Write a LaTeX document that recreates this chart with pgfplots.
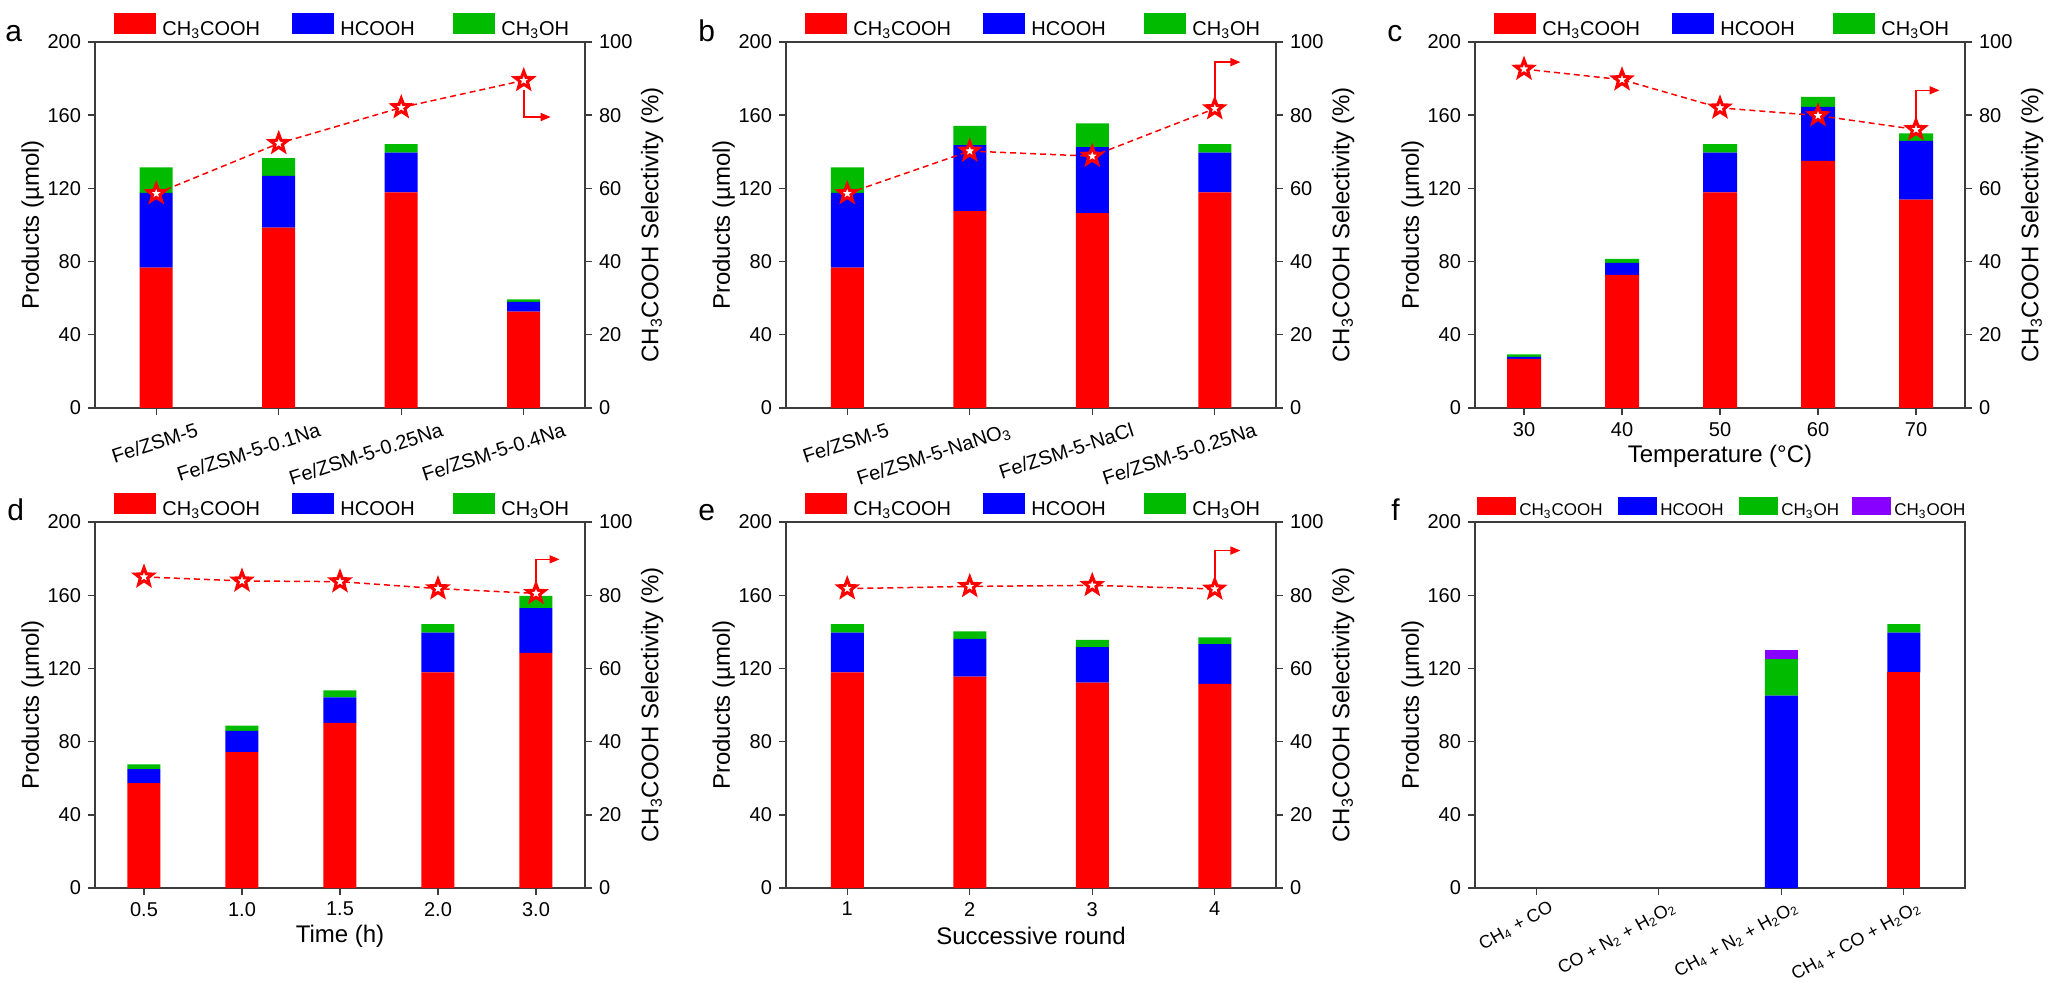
\documentclass[border=0pt]{standalone}
\usepackage{fontspec}
\setmainfont{Liberation Sans}
\usepackage{graphicx}
\usepackage{pgfplots}
\pgfplotsset{compat=1.18}
\usetikzlibrary{arrows.meta}

\definecolor{cred}{RGB}{255,0,0}
\definecolor{cblue}{RGB}{0,0,255}
\definecolor{cgreen}{RGB}{0,187,0}
\definecolor{cpurple}{RGB}{136,0,255}
\definecolor{axgray}{RGB}{60,60,60}

\pgfdeclareplotmark{fivestar}{%
  \pgfpathmoveto{\pgfpointpolar{90}{\pgfplotmarksize}}%
  \pgfpathlineto{\pgfpointpolar{126}{0.42\pgfplotmarksize}}%
  \pgfpathlineto{\pgfpointpolar{162}{\pgfplotmarksize}}%
  \pgfpathlineto{\pgfpointpolar{198}{0.42\pgfplotmarksize}}%
  \pgfpathlineto{\pgfpointpolar{234}{\pgfplotmarksize}}%
  \pgfpathlineto{\pgfpointpolar{270}{0.42\pgfplotmarksize}}%
  \pgfpathlineto{\pgfpointpolar{306}{\pgfplotmarksize}}%
  \pgfpathlineto{\pgfpointpolar{342}{0.42\pgfplotmarksize}}%
  \pgfpathlineto{\pgfpointpolar{18}{\pgfplotmarksize}}%
  \pgfpathlineto{\pgfpointpolar{54}{0.42\pgfplotmarksize}}%
  \pgfpathclose
  \pgfusepathqfillstroke
}

\def\legw{21pt}
\def\legtr{3pt}
\def\legh{8.5pt}

\newcommand\legA{\makebox[65pt][l]{CH\textsubscript{3}COOH}}
\newcommand\legB{\makebox[56.5pt][l]{HCOOH}}
\newcommand\legC{CH\textsubscript{3}OH}
\newcommand\ra[1]{\rotatebox{18}{#1}}
\newcommand\rf[1]{\rotatebox{29}{#1}}

\pgfplotsset{
  legbox/.style={legend image code/.code={%
      \fill[##1,draw=none] (0pt,-2pt) rectangle (\legw,\legh);
      \path ({\legw+\legtr},0pt);}},
  panel/.style={scale only axis, width=245pt, height=183pt, anchor=south west,
    axis line style={axgray,line width=0.7pt},
    every tick/.style={axgray,line width=0.7pt},
    tick align=outside, major tick length=3.5pt,
    /pgf/number format/assume math mode=true,
    tick label style={font=\fontsize{10}{12}\selectfont},
    label style={font=\fontsize{12}{14}\selectfont},
  },
  leftax/.style={panel, ymin=0, ymax=200, ytick={0,40,...,200}, tick pos=left,
    ylabel={Products (µmol)},
    ylabel style={at={(axis description cs:-0.127,0.5)}, anchor=center},
    ybar stacked, bar width=16.5pt,
    every axis plot post/.append style={legbox},
    legend columns=-1,
    legend style={draw=none, fill=none, at={(0,1)}, anchor=south west,
      xshift=9.5pt, yshift=1.5pt, inner sep=0pt, column sep=0pt,
      font=\fontsize{10}{12}\selectfont, nodes={inner sep=0pt}},
    legend cell align=left,
  },
  rightax/.style={panel, ymin=0, ymax=100, ytick={0,20,...,100},
    axis y line*=right, axis x line=none,
    ylabel={CH\textsubscript{3}COOH Selectivity (\%)},
    ylabel style={at={(axis description cs:1.137,0.5)}, anchor=center},
  },
  xlab/.style={xlabel style={at={(axis description cs:0.5,-0.131)}, anchor=center}},
  selline/.style={red, line width=0.75pt, dash pattern=on 3pt off 2pt,
    mark=fivestar, mark size=4.6pt,
    mark options={solid, draw=red, fill=white, line width=1.5pt}},
  selarrow/.style={red, line width=0.75pt, -{Triangle[length=5pt,width=4pt]}},
  rotlab/.style={xticklabel style={font=\fontsize{10}{12}\selectfont,
      anchor=north east, xshift=25pt}},
}

\begin{document}
\begin{tikzpicture}
\useasboundingbox (0pt,0pt) rectangle (1024pt,493pt);

% panel letters
\node[anchor=base west, inner sep=0pt, font=\fontsize{15}{18}\selectfont] at (2.5pt,472pt) {a};
\node[anchor=base west, inner sep=0pt, font=\fontsize{15}{18}\selectfont] at (349pt,472pt) {b};
\node[anchor=base west, inner sep=0pt, font=\fontsize{15}{18}\selectfont] at (693.5pt,472pt) {c};
\node[anchor=base west, inner sep=0pt, font=\fontsize{15}{18}\selectfont] at (3.5pt,233pt) {d};
\node[anchor=base west, inner sep=0pt, font=\fontsize{15}{18}\selectfont] at (349pt,233pt) {e};
\node[anchor=base west, inner sep=0pt, font=\fontsize{15}{18}\selectfont] at (695.5pt,233pt) {f};

% ---------------- panel a ----------------
\begin{axis}[leftax, at={(47.5pt,289pt)}, xmin=-0.5, xmax=3.5,
  xtick={0,1,2,3}, rotlab,
  xticklabels={\ra{Fe/ZSM-5}, \ra{Fe/ZSM-5-0.1Na}, \ra{Fe/ZSM-5-0.25Na}, \ra{Fe/ZSM-5-0.4Na}}]
\addplot[fill=cred, draw=none] coordinates {(0,76.7) (1,98.5) (2,117.8) (3,52.7)};
\addlegendentry{\legA}
\addplot[fill=cblue, draw=none] coordinates {(0,40.9) (1,28.4) (2,21.8) (3,5.3)};
\addlegendentry{\legB}
\addplot[fill=cgreen, draw=none] coordinates {(0,13.9) (1,9.6) (2,4.6) (3,1.3)};
\addlegendentry{\legC}
\end{axis}
\begin{axis}[rightax, at={(47.5pt,289pt)}, xmin=-0.5, xmax=3.5]
\addplot[selarrow] coordinates {(3,87) (3,79.5) (3.22,79.5)};
\addplot[selline] coordinates {(0,58.6) (1,72.3) (2,82.1) (3,89.5)};
\end{axis}

% ---------------- panel b ----------------
\begin{axis}[leftax, at={(393pt,289pt)}, xmin=-0.5, xmax=3.5,
  xtick={0,1,2,3}, rotlab,
  xticklabels={\ra{Fe/ZSM-5}, \ra{Fe/ZSM-5-NaNO\textsubscript{3}}, \ra{Fe/ZSM-5-NaCl}, \ra{Fe/ZSM-5-0.25Na}}]
\addplot[fill=cred, draw=none] coordinates {(0,76.7) (1,107.6) (2,106.5) (3,117.8)};
\addlegendentry{\legA}
\addplot[fill=cblue, draw=none] coordinates {(0,40.9) (1,36.0) (2,36.0) (3,21.8)};
\addlegendentry{\legB}
\addplot[fill=cgreen, draw=none] coordinates {(0,13.9) (1,10.6) (2,13.0) (3,4.6)};
\addlegendentry{\legC}
\end{axis}
\begin{axis}[rightax, at={(393pt,289pt)}, xmin=-0.5, xmax=3.5]
\addplot[selarrow] coordinates {(3,84) (3,94.5) (3.21,94.5)};
\addplot[selline] coordinates {(0,58.6) (1,70.2) (2,68.8) (3,81.8)};
\end{axis}

% ---------------- panel c ----------------
\begin{axis}[leftax, at={(737.5pt,289pt)}, xmin=25, xmax=75,
  xtick={30,40,50,60,70}, bar width=17pt, xlab, xlabel={Temperature (°C)}]
\addplot[fill=cred, draw=none] coordinates {(30,26.9) (40,72.7) (50,117.8) (60,135.1) (70,113.8)};
\addlegendentry{\legA}
\addplot[fill=cblue, draw=none] coordinates {(30,1.1) (40,6.6) (50,21.8) (60,29.4) (70,32.2)};
\addlegendentry{\legB}
\addplot[fill=cgreen, draw=none] coordinates {(30,1.3) (40,2.2) (50,4.6) (60,5.5) (70,4.0)};
\addlegendentry{\legC}
\end{axis}
\begin{axis}[rightax, at={(737.5pt,289pt)}, xmin=25, xmax=75]
\addplot[selarrow] coordinates {(70,78) (70,86.8) (72.4,86.8)};
\addplot[selline] coordinates {(30,92.6) (40,89.7) (50,82.0) (60,79.9) (70,76.1)};
\end{axis}

% ---------------- panel d ----------------
\begin{axis}[leftax, at={(47.5pt,49pt)}, xmin=-0.5, xmax=4.5,
  xtick={0,1,2,3,4}, xticklabels={0.5,1.0,1.5,2.0,3.0}, xlab, xlabel={Time (h)}]
\addplot[fill=cred, draw=none] coordinates {(0,57.3) (1,74.2) (2,90.2) (3,117.8) (4,128.5)};
\addlegendentry{\legA}
\addplot[fill=cblue, draw=none] coordinates {(0,7.6) (1,11.6) (2,14.0) (3,21.8) (4,24.4)};
\addlegendentry{\legB}
\addplot[fill=cgreen, draw=none] coordinates {(0,2.6) (1,2.9) (2,3.8) (3,4.6) (4,6.7)};
\addlegendentry{\legC}
\end{axis}
\begin{axis}[rightax, at={(47.5pt,49pt)}, xmin=-0.5, xmax=4.5]
\addplot[selarrow] coordinates {(4,82) (4,89.8) (4.24,89.8)};
\addplot[selline] coordinates {(0,85.0) (1,83.9) (2,83.7) (3,81.8) (4,80.5)};
\end{axis}

% ---------------- panel e ----------------
\begin{axis}[leftax, at={(393pt,49pt)}, xmin=0.5, xmax=4.5,
  xtick={1,2,3,4}, xlab, xlabel={Successive round}]
\addplot[fill=cred, draw=none] coordinates {(1,117.8) (2,115.5) (3,112.2) (4,111.6)};
\addlegendentry{\legA}
\addplot[fill=cblue, draw=none] coordinates {(1,21.8) (2,20.7) (3,19.4) (4,21.7)};
\addlegendentry{\legB}
\addplot[fill=cgreen, draw=none] coordinates {(1,4.6) (2,4.0) (3,4.0) (4,3.6)};
\addlegendentry{\legC}
\end{axis}
\begin{axis}[rightax, at={(393pt,49pt)}, xmin=0.5, xmax=4.5]
\addplot[selarrow] coordinates {(4,83) (4,92.2) (4.21,92.2)};
\addplot[selline] coordinates {(1,81.8) (2,82.4) (3,82.7) (4,81.7)};
\end{axis}

% ---------------- panel f ----------------
\def\legw{19.5pt}
\def\legtr{1.5pt}
\def\legh{7pt}
\begin{axis}[leftax, at={(737.5pt,49pt)}, xmin=-0.5, xmax=3.5,
  xtick={0,1,2,3},
  xticklabel style={font=\fontsize{9}{11}\selectfont, anchor=north east, xshift=13pt, yshift=1pt},
  xticklabels={\rf{CH\textsubscript{4} + CO}, \rf{CO + N\textsubscript{2} + H\textsubscript{2}O\textsubscript{2}}, \rf{CH\textsubscript{4} + N\textsubscript{2} + H\textsubscript{2}O\textsubscript{2}}, \rf{CH\textsubscript{4} + CO + H\textsubscript{2}O\textsubscript{2}}},
  legend style={xshift=-8.5pt, font=\fontsize{8.5}{10}\selectfont}]
\addplot[fill=cred, draw=none] coordinates {(0,0) (1,0) (2,0) (3,117.8)};
\addlegendentry{\makebox[49.5pt][l]{CH\textsubscript{3}COOH}}
\addplot[fill=cblue, draw=none] coordinates {(0,0) (1,0) (2,105.1) (3,21.8)};
\addlegendentry{\makebox[39.5pt][l]{HCOOH}}
\addplot[fill=cgreen, draw=none] coordinates {(0,0) (1,0) (2,20.0) (3,4.6)};
\addlegendentry{\makebox[35.5pt][l]{CH\textsubscript{3}OH}}
\addplot[fill=cpurple, draw=none] coordinates {(0,0) (1,0) (2,4.7) (3,0)};
\addlegendentry{CH\textsubscript{3}OOH}
\end{axis}
\end{tikzpicture}
\end{document}
